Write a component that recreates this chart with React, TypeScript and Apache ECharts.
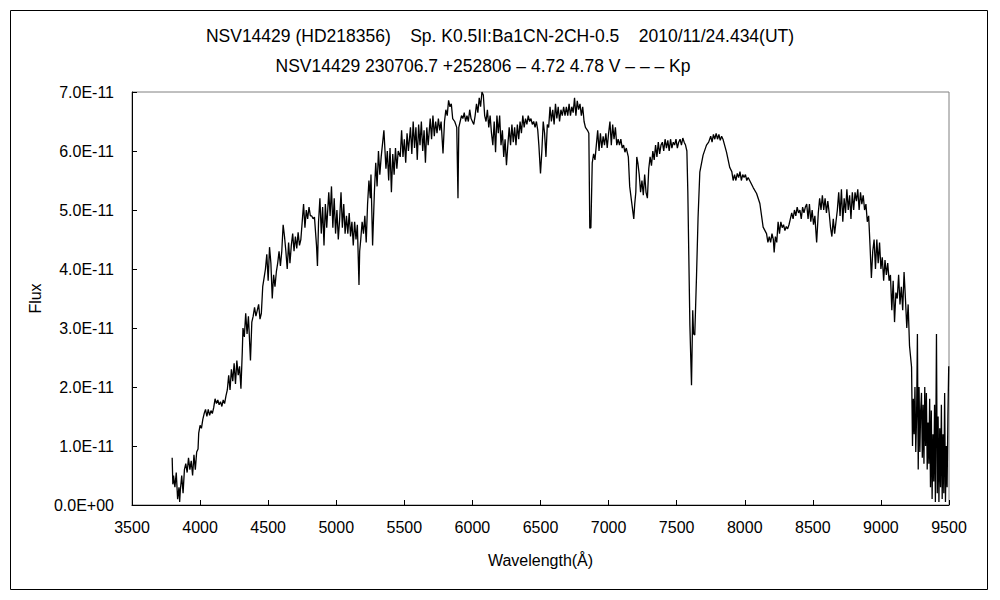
import React, { useEffect, useRef } from "react";
import * as echarts from "echarts";

const titleLine1 = "NSV14429 (HD218356)    Sp. K0.5II:Ba1CN-2CH-0.5    2010/11/24.434(UT)";
const titleLine2 = "NSV14429 230706.7 +252806 \u2013 4.72 4.78 V \u2013 \u2013 \u2013 Kp";
const xAxisTitle = "Wavelength(\u00C5)";
const yAxisTitle = "Flux";

// [wavelength (Å), flux (×1E-11)]
const blueRegion: [number, number][] = [
  [3795,0.8],[3800,0.35],[3805,0.5],[3815,0.3],[3825,0.55],[3835,0.1],[3845,0.3],[3850,0.05],[3855,0.25],[3865,0.5],[3875,0.2],[3885,0.6],[3895,0.7],[3905,0.55],[3915,0.8],[3925,0.6],[3935,0.75],[3945,0.5],[3955,0.85],[3965,0.6],[3975,0.9],[3985,0.95],[3990,1.22],[4000,1.35],[4010,1.3],[4020,1.45],[4030,1.55],[4040,1.62],[4050,1.5],[4060,1.62],[4070,1.52],[4080,1.6],[4090,1.55],[4100,1.65],[4110,1.8],[4120,1.72],[4130,1.78],[4140,1.7],[4150,1.75],[4160,1.67],[4170,1.78],[4180,1.72],[4190,1.85],[4200,1.95],[4210,2.2],[4220,1.95],[4230,2.3],[4240,2.1],[4250,2.4],[4260,2.05],[4270,2.45],[4280,2.2],[4290,2.35],[4300,1.97],[4310,2.6],[4315,3.0],[4325,2.85],[4335,3.25],[4345,2.9],[4355,3.2],[4365,2.7],[4370,2.45],[4380,3.1],[4390,3.2],[4400,3.35],[4410,3.2],[4420,3.3],[4430,3.4],[4440,3.15],[4450,3.25],[4460,3.7],[4470,3.85],[4480,4.0],[4490,4.25],[4500,3.8],[4510,4.37],[4520,4.1],[4530,3.5],[4540,3.9],[4550,3.7],[4560,3.95],[4570,4.1],[4580,4.3],[4590,4.05],[4600,4.3],[4610,4.75],[4620,4.55],[4630,4.3],[4640,4.0],[4650,4.45],[4660,4.1],[4670,4.4],[4680,4.6],[4690,4.3],[4700,4.55],[4710,4.35],[4720,4.62],[4730,4.4],[4740,4.5],[4750,4.8],[4760,5.1],[4770,4.7],[4780,5.0],[4790,4.85],[4800,5.05],[4810,4.9],[4820,4.9],[4830,4.85],[4840,4.88],[4855,4.4],[4862,4.05],[4870,4.8],[4880,5.2],[4890,4.6],[4900,5.05],[4910,4.4],[4920,5.1],[4930,4.7],[4945,5.3],[4955,4.9],[4965,5.4],[4975,4.7],[4985,5.2]
];

const greenRegion: [number, number][] = [
  [4995,4.6],[5005,5.0],[5015,4.5],[5025,4.85],[5035,5.3],[5045,4.7],[5055,5.1],[5065,4.6],[5075,4.9],[5085,4.6],[5095,4.95],[5105,4.55],[5115,4.8],[5125,4.4],[5135,4.8],[5145,4.5],[5155,4.75],[5167,3.73],[5172,4.3],[5180,4.5],[5190,4.8],[5200,4.6],[5210,4.9],[5220,4.45],[5230,5.1],[5240,5.5],[5250,5.2],[5255,5.6],[5267,4.4],[5280,5.3],[5290,5.8],[5300,5.4],[5310,6.0],[5320,5.6],[5330,5.9],[5350,6.35],[5365,5.7],[5375,6.0],[5385,5.5],[5395,6.05],[5405,5.3],[5415,5.95],[5425,5.6],[5435,6.05],[5445,5.7],[5455,6.0],[5470,5.9],[5480,6.35],[5490,5.9],[5500,6.2],[5510,5.8],[5520,6.3],[5530,6.0],[5545,6.4],[5555,5.95],[5565,6.5],[5575,6.05],[5585,6.4],[5595,5.85],[5605,6.45],[5615,6.1],[5625,6.5],[5635,6.0],[5645,6.35],[5655,5.8],[5665,6.4],[5675,6.1],[5690,6.55],[5700,6.2],[5710,6.6],[5720,6.25],[5730,6.5],[5740,6.3],[5750,6.55],[5760,6.35],[5770,6.5],[5784,5.96],[5795,6.5],[5805,6.7],[5815,6.6],[5825,6.86],[5835,6.75],[5845,6.8],[5855,6.55],[5870,6.5],[5885,6.4],[5894,5.2],[5900,6.4],[5910,6.5],[5920,6.6],[5930,6.55],[5940,6.65],[5950,6.5],[5960,6.6],[5970,6.5],[5980,6.7],[5990,6.55],[6000,6.5],[6010,6.45],[6020,6.6],[6030,6.8],[6040,6.65],[6050,6.9],[6060,6.75],[6070,7.0],[6080,6.95],[6090,6.6],[6100,6.5],[6110,6.7],[6120,6.4],[6130,6.6],[6140,6.3],[6150,6.1],[6160,6.5],[6170,5.98],[6180,6.6],[6190,6.3],[6200,6.6]
];

const redRegion: [number, number][] = [
  [6210,6.1],[6220,6.35],[6230,5.9],[6240,6.2],[6250,5.76],[6260,6.1],[6270,6.4],[6280,6.1],[6290,6.45],[6300,6.15],[6310,6.4],[6320,6.1],[6330,6.45],[6340,6.2],[6350,6.5],[6360,6.3],[6370,6.6],[6380,6.4],[6390,6.55],[6400,6.45],[6410,6.6],[6420,6.5],[6430,6.55],[6440,6.45],[6450,6.5],[6460,6.4],[6470,6.5],[6480,6.35],[6488,6.1],[6500,5.62],[6510,6.0],[6520,6.5],[6530,6.3],[6540,5.9],[6550,6.45],[6560,6.4],[6570,6.75],[6580,6.5],[6590,6.7],[6600,6.45],[6610,6.8],[6620,6.55],[6630,6.75],[6640,6.5],[6650,6.7],[6660,6.6],[6670,6.75],[6680,6.6],[6690,6.75],[6700,6.6],[6710,6.8],[6720,6.6],[6730,6.75],[6740,6.65],[6750,6.9],[6760,6.6],[6770,6.85],[6780,6.7],[6790,6.8],[6800,6.6],[6810,6.75],[6820,6.5],[6830,6.4],[6845,6.35],[6855,6.3],[6862,4.69],[6870,4.7],[6880,5.8],[6890,5.95],[6900,5.85],[6910,6.1],[6920,6.35],[6930,6.0],[6940,6.3],[6950,6.05],[6960,6.25],[6970,6.1],[6980,6.3],[6990,6.05],[7000,6.3],[7010,6.5],[7020,6.1],[7030,6.45],[7040,6.2],[7050,6.4],[7060,6.1],[7070,6.2],[7080,6.1],[7090,6.2],[7100,6.05],[7110,6.1],[7120,5.98],[7130,6.05],[7145,5.9],[7155,5.4],[7168,5.16],[7185,4.85],[7192,5.1],[7200,5.3],[7207,5.9],[7215,5.8],[7225,5.6],[7235,5.3],[7245,5.5],[7255,5.25],[7265,5.6],[7275,5.3],[7285,5.2],[7295,5.7],[7305,5.9],[7315,5.75],[7325,6.0],[7335,5.85],[7345,6.1],[7355,5.9],[7365,6.15],[7375,5.95],[7385,6.1]
];

const nearInfraredRegion: [number, number][] = [
  [7395,6.15],[7405,6.0],[7415,6.2],[7425,6.05],[7435,6.18],[7445,6.0],[7455,6.2],[7465,6.05],[7475,6.15],[7485,6.1],[7495,6.2],[7505,6.05],[7515,6.15],[7525,6.2],[7535,6.1],[7545,6.22],[7555,6.15],[7565,6.1],[7575,6.0],[7582,5.3],[7597,3.05],[7609,2.03],[7618,3.3],[7624,2.9],[7633,2.88],[7646,3.9],[7657,4.86],[7670,5.64],[7694,5.93],[7719,6.1],[7735,6.15],[7750,6.25],[7760,6.15],[7770,6.28],[7780,6.2],[7790,6.3],[7800,6.2],[7810,6.28],[7820,6.18],[7830,6.25],[7840,6.2],[7866,5.98],[7890,5.72],[7905,5.65],[7915,5.5],[7925,5.6],[7935,5.5],[7945,5.62],[7955,5.55],[7965,5.65],[7975,5.5],[7985,5.6],[7995,5.55],[8005,5.6],[8015,5.5],[8025,5.55],[8062,5.38],[8087,5.28],[8111,5.11],[8135,4.71],[8160,4.6],[8170,4.45],[8180,4.55],[8190,4.45],[8200,4.6],[8210,4.5],[8216,4.28],[8225,4.55],[8235,4.45],[8245,4.8],[8255,4.6],[8265,4.8],[8275,4.7],[8285,4.75],[8295,4.65],[8305,4.72],[8315,4.68],[8325,4.75],[8335,4.85],[8345,4.95],[8355,4.85],[8365,5.0],[8375,4.9],[8385,5.05],[8395,4.95],[8405,5.0],[8415,4.85],[8425,5.05],[8435,4.95],[8445,5.05],[8455,5.1],[8465,4.85],[8475,5.1],[8485,4.8],[8495,5.0],[8505,4.75],[8515,4.9],[8528,4.45],[8540,4.95],[8550,5.2],[8560,5.0],[8570,5.25],[8580,5.0],[8590,5.2],[8600,4.95],[8610,5.15],[8620,4.95],[8630,4.7],[8640,4.55],[8650,4.85],[8660,4.6],[8670,4.8],[8680,5.0],[8690,5.3],[8700,4.9],[8710,5.35],[8720,4.8],[8730,5.2],[8740,4.95],[8750,5.35],[8760,5.0],[8770,5.25],[8780,4.85],[8790,5.3],[8800,5.0],[8810,5.3],[8820,5.15],[8830,5.35],[8840,5.0],[8850,5.3],[8860,5.1],[8870,5.25],[8880,5.0],[8890,5.1],[8900,4.8],[8910,4.9],[8920,4.4],[8930,3.85],[8940,4.3],[8950,4.5],[8960,4.0],[8970,4.5],[8980,4.1],[8990,4.45],[9000,4.0],[9010,4.2],[9020,3.8],[9030,4.15],[9040,3.9],[9050,4.1],[9060,3.8],[9070,3.9],[9080,3.3],[9090,3.8],[9100,3.1],[9110,3.6],[9120,3.5],[9130,3.9],[9140,3.4],[9150,3.7],[9160,3.3],[9170,3.95],[9180,3.5],[9190,3.0],[9200,3.4],[9210,2.7],[9225,2.34],[9232,1.0],[9238,1.8],[9244,1.2],[9250,2.0],[9256,0.9],[9262,1.5],[9268,2.9],[9274,0.6],[9280,2.0],[9286,0.9],[9292,1.6],[9298,1.9],[9304,0.8],[9310,1.7],[9316,0.7],[9322,2.0],[9328,1.0],[9334,1.9],[9340,0.6],[9346,1.4],[9352,0.7],[9358,1.8],[9364,0.3],[9370,1.6],[9376,0.1],[9382,1.2],[9388,0.4],[9394,1.7],[9400,0.05],[9408,2.9],[9414,0.2],[9420,1.5],[9426,0.05],[9432,1.3],[9438,0.3],[9444,1.7],[9450,0.1],[9456,1.2],[9462,0.2],[9468,1.9],[9474,0.05],[9480,1.0],[9486,0.3],[9492,1.5],[9498,2.35]
];

const fontFamily = "'Liberation Sans', Arial, sans-serif";

export default function App() {
  const ref = useRef<HTMLDivElement>(null);
  useEffect(() => {
    if (!ref.current) return;
    const chart = echarts.init(ref.current, undefined, { renderer: "svg" });
    const data = [...blueRegion, ...greenRegion, ...redRegion, ...nearInfraredRegion];
    chart.setOption({
      animation: false,
      backgroundColor: "#ffffff",
      textStyle: { fontFamily },
      grid: {
        left: 132, right: 51, top: 92, bottom: 95,
        show: true, borderColor: "#808080", borderWidth: 1, backgroundColor: "transparent",
      },
      graphic: [
        { type: "rect", shape: { x: 10.5, y: 10.5, width: 977, height: 579 }, style: { fill: "none", stroke: "#000", lineWidth: 1 }, silent: true },
        { type: "text", x: 500, y: 36, style: { text: titleLine1, fontSize: 17.5, fontFamily, fill: "#000", textAlign: "center", textVerticalAlign: "middle" } },
        { type: "text", x: 483, y: 66, style: { text: titleLine2, fontSize: 17.5, fontFamily, fill: "#000", textAlign: "center", textVerticalAlign: "middle" } },
      ],
      xAxis: {
        type: "value", min: 3500, max: 9500, interval: 500,
        name: xAxisTitle, nameLocation: "middle", nameGap: 47,
        nameTextStyle: { fontSize: 16, color: "#000", fontFamily },
        axisLine: { show: true, onZero: false, lineStyle: { color: "#000", width: 1 } },
        axisTick: { show: true, inside: true, length: 5, lineStyle: { color: "#000" } },
        axisLabel: { fontSize: 16, color: "#000", margin: 14, fontFamily, formatter: (v: number) => String(v) },
        splitLine: { show: false },
      },
      yAxis: {
        type: "value", min: 0, max: 7, interval: 1,
        name: yAxisTitle, nameLocation: "middle", nameGap: 83, nameRotate: 90,
        nameTextStyle: { fontSize: 16, color: "#000", fontFamily },
        axisLine: { show: true, onZero: false, lineStyle: { color: "#000", width: 1 } },
        axisTick: { show: true, inside: true, length: 5, lineStyle: { color: "#000" } },
        axisLabel: {
          fontSize: 16, color: "#000", margin: 18, fontFamily,
          formatter: (v: number) => (v === 0 ? "0.0E+00" : `${v.toFixed(1)}E-11`),
        },
        splitLine: { show: false },
      },
      series: [
        {
          type: "line", data, showSymbol: false, symbol: "none",
          lineStyle: { color: "#000", width: 1.3 },
          clip: true,
        },
      ],
    });
    return () => chart.dispose();
  }, []);
  return <div ref={ref} style={{ position: "fixed", left: 0, top: 0, width: 1000, height: 600 }} />;
}
